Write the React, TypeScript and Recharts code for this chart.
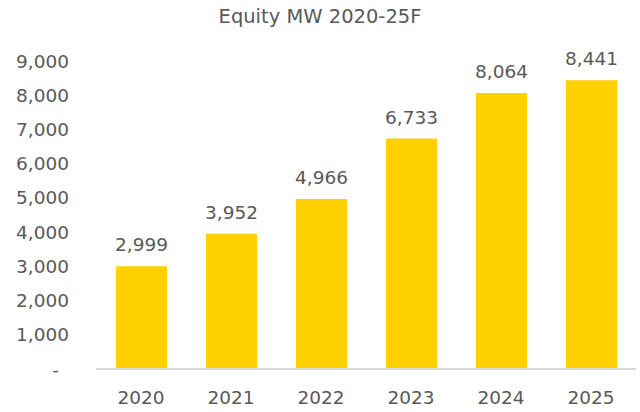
import React from 'react'
import { BarChart, Bar, XAxis, YAxis, LabelList } from 'recharts'

// Equity MW by year, 2025 forecast
const years = ['2020', '2021', '2022', '2023', '2024', '2025']
const equityMW = [2999, 3952, 4966, 6733, 8064, 8441]
const yTicks = [0, 1000, 2000, 3000, 4000, 5000, 6000, 7000, 8000, 9000]

const data = years.map((year, i) => ({ year, mw: equityMW[i] }))

const FONT = '"DejaVu Sans", sans-serif'
const GREY = '#595959'

const fmt = (v: number) => (v === 0 ? '-' : v.toLocaleString('en-US'))

function YTick({ x, y, payload }: any) {
  const zero = payload.value === 0
  return (
    <text
      x={zero ? x - 10 : x}
      y={y}
      dy="0.355em"
      textAnchor="end"
      fill={GREY}
      fontSize={18.5}
      fontFamily={FONT}
    >
      {fmt(payload.value)}
    </text>
  )
}

export default function App() {
  return (
    <div style={{ position: 'absolute', left: 0, top: 0, width: 640, height: 412, background: '#fff' }}>
      <div
        style={{
          position: 'absolute',
          left: 170,
          width: 300,
          top: 5,
          textAlign: 'center',
          fontFamily: FONT,
          fontSize: 19.5,
          color: GREY,
        }}
      >
        Equity MW 2020-25F
      </div>
      <BarChart
        width={640}
        height={412}
        data={data}
        margin={{ top: 61, right: 4, left: 0, bottom: 0 }}
      >
        <XAxis
          dataKey="year"
          height={43}
          tickSize={0}
          tickMargin={22}
          axisLine={{ stroke: '#d9d9d9', strokeWidth: 2 }}
          tick={{ fill: GREY, fontSize: 18.5, fontFamily: FONT }}
        />
        <YAxis
          width={96}
          domain={[0, 9000]}
          ticks={yTicks}
          interval={0}
          tickSize={0}
          tickMargin={27}
          axisLine={false}
          tick={<YTick />}
        />
        <Bar dataKey="mw" fill="#FFD100" barSize={51} isAnimationActive={false}>
          <LabelList
            dataKey="mw"
            position="top"
            offset={15}
            formatter={(v: any) => fmt(Number(v))}
            style={{ fill: GREY, fontSize: 18.5, fontFamily: FONT }}
          />
        </Bar>
      </BarChart>
    </div>
  )
}
